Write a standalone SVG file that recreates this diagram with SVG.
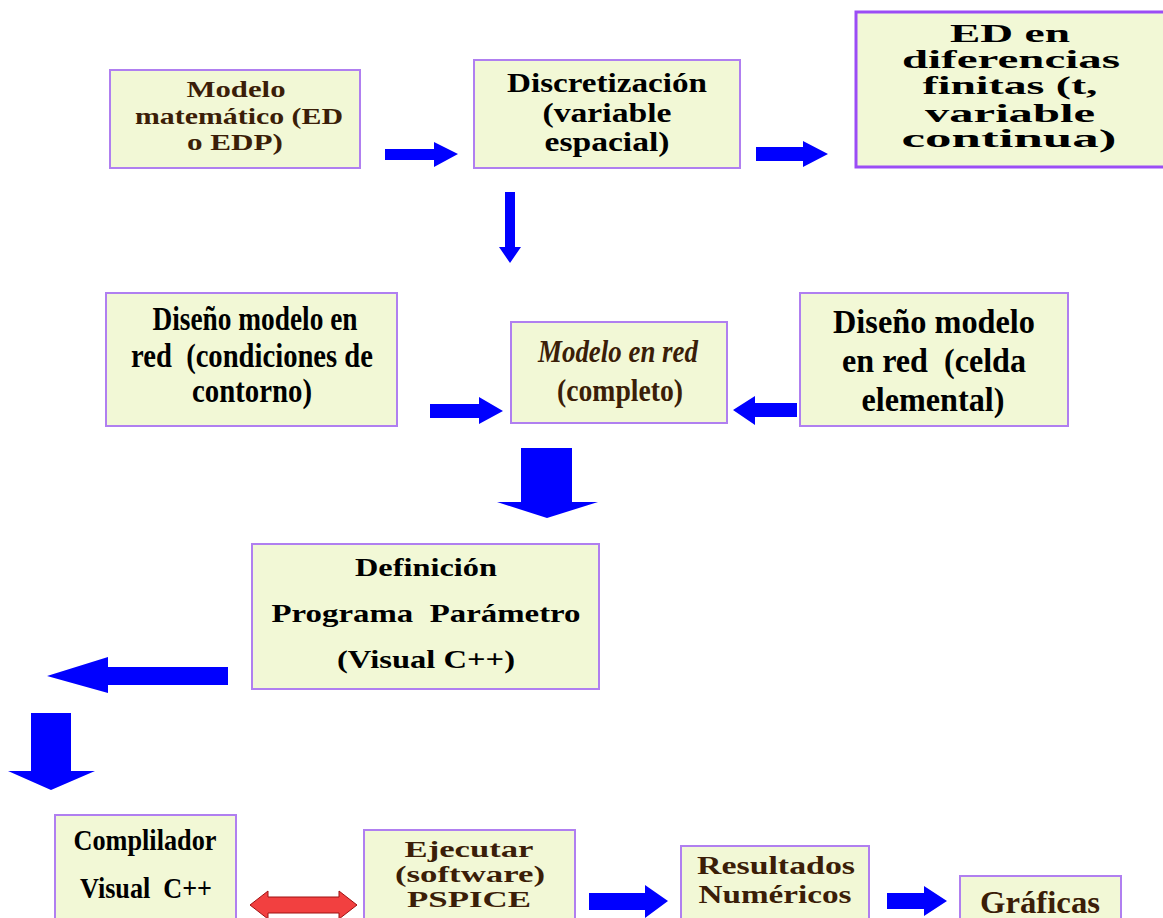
<svg xmlns="http://www.w3.org/2000/svg" width="1163" height="918" viewBox="0 0 1163 918">
<style>
.box{fill:#f2f8d6;stroke:#b07ff0;stroke-width:2}
.t{font-family:"Liberation Serif",serif;font-weight:bold;text-anchor:middle;fill:#000;white-space:pre}
.br{fill:#3b1e08}
.arr{fill:#0000ff}
.red{fill:#f24040;stroke:#a01010;stroke-width:1}
</style>
<rect width="1163" height="918" fill="#fff"/>
<g id="connectors">
<polygon class="arr" points="385,149 434,149 434,142 458,154 434,167 434,160 385,160"/>
<polygon class="arr" points="756,147 803,147 803,141 828,154 803,167 803,161 756,161"/>
<polygon class="arr" points="505,192 515,192 515,247 521,247 510,263 499,247 505,247"/>
<polygon class="arr" points="430,404 479,404 479,397 503,411 479,424 479,418 430,418"/>
<polygon class="arr" points="797,403 755,403 755,396 733,410 755,425 755,417 797,417"/>
<polygon class="arr" points="521,448 572,448 572,502 598,502 547,518 497,502 521,502"/>
<polygon class="arr" points="228,667 108,667 108,657 47,676 108,693 108,685 228,685"/>
<polygon class="arr" points="31,713 71,713 71,771 95,771 51,790 8,771 31,771"/>
<polygon class="red" points="250,905 268,891 268,897 339,897 339,891 357,905 339,919 339,913 268,913 268,919"/>
<polygon class="arr" points="589,893 645,893 645,885 668,901 645,918 645,910 589,910"/>
<polygon class="arr" points="887,893 924,893 924,886 947,901 924,916 924,909 887,909"/>
</g>
<g id="n-modelo">
<rect class="box" x="110" y="70" width="250" height="98"/>
<text class="t br" font-size="24"><tspan x="236" y="97" textLength="99" lengthAdjust="spacingAndGlyphs">Modelo</tspan><tspan x="239" y="124" textLength="208" lengthAdjust="spacingAndGlyphs">matemático (ED</tspan><tspan x="235" y="150" textLength="96" lengthAdjust="spacingAndGlyphs">o EDP)</tspan></text>
</g>
<g id="n-discretizacion">
<rect class="box" x="474" y="60" width="266" height="108"/>
<text class="t" font-size="27"><tspan x="607" y="92" textLength="200" lengthAdjust="spacingAndGlyphs">Discretización</tspan><tspan x="607" y="122" textLength="129" lengthAdjust="spacingAndGlyphs">(variable</tspan><tspan x="607" y="151" textLength="125" lengthAdjust="spacingAndGlyphs">espacial)</tspan></text>
</g>
<g id="n-ed-diferencias">
<rect x="856" y="12" width="312" height="155" fill="#f2f8d6" stroke="#9b4df5" stroke-width="3"/>
<text class="t" font-size="25"><tspan x="1010" y="42" textLength="120" lengthAdjust="spacingAndGlyphs">ED en</tspan><tspan x="1011" y="68" textLength="218" lengthAdjust="spacingAndGlyphs">diferencias</tspan><tspan x="1010" y="94" textLength="175" lengthAdjust="spacingAndGlyphs">finitas (t,</tspan><tspan x="1010" y="122" textLength="170" lengthAdjust="spacingAndGlyphs">variable</tspan><tspan x="1009" y="147" textLength="215" lengthAdjust="spacingAndGlyphs">continua)</tspan></text>
</g>
<g id="n-diseno-contorno">
<rect class="box" x="106" y="293" width="291" height="133"/>
<text class="t" font-size="33"><tspan x="255" y="330" textLength="205" lengthAdjust="spacingAndGlyphs">Diseño modelo en</tspan><tspan x="252" y="367" textLength="242" lengthAdjust="spacingAndGlyphs">red  (condiciones de</tspan><tspan x="252" y="402" textLength="120" lengthAdjust="spacingAndGlyphs">contorno)</tspan></text>
</g>
<g id="n-modelo-red">
<rect class="box" x="511" y="322" width="216" height="101"/>
<text class="t br" font-size="31"><tspan x="618" y="362" font-style="italic" textLength="160" lengthAdjust="spacingAndGlyphs">Modelo en red</tspan><tspan x="620" y="401" textLength="126" lengthAdjust="spacingAndGlyphs">(completo)</tspan></text>
</g>
<g id="n-diseno-celda">
<rect class="box" x="800" y="293" width="268" height="133"/>
<text class="t" font-size="34"><tspan x="934" y="333" textLength="202" lengthAdjust="spacingAndGlyphs">Diseño modelo</tspan><tspan x="934" y="372" textLength="184" lengthAdjust="spacingAndGlyphs">en red  (celda</tspan><tspan x="933" y="411" textLength="143" lengthAdjust="spacingAndGlyphs">elemental)</tspan></text>
</g>
<g id="n-definicion">
<rect class="box" x="252" y="544" width="347" height="145"/>
<text class="t" font-size="26"><tspan x="426" y="576" textLength="142" lengthAdjust="spacingAndGlyphs">Definición</tspan><tspan x="426" y="622" textLength="309" lengthAdjust="spacingAndGlyphs">Programa  Parámetro</tspan><tspan x="426" y="668" textLength="178" lengthAdjust="spacingAndGlyphs">(Visual C++)</tspan></text>
</g>
<g id="n-compilador">
<rect class="box" x="55" y="815" width="181" height="110"/>
<text class="t" font-size="30"><tspan x="145" y="850" textLength="143" lengthAdjust="spacingAndGlyphs">Complilador</tspan><tspan x="146" y="898" textLength="132" lengthAdjust="spacingAndGlyphs">Visual  C++</tspan></text>
</g>
<g id="n-ejecutar">
<rect class="box" x="364" y="830" width="211" height="95"/>
<text class="t br" font-size="24"><tspan x="469" y="857" textLength="129" lengthAdjust="spacingAndGlyphs">Ejecutar</tspan><tspan x="470" y="882" textLength="150" lengthAdjust="spacingAndGlyphs">(software)</tspan><tspan x="469" y="907" textLength="124" lengthAdjust="spacingAndGlyphs">PSPICE</tspan></text>
</g>
<g id="n-resultados">
<rect class="box" x="681" y="846" width="188" height="80"/>
<text class="t br" font-size="26"><tspan x="776" y="874" textLength="158" lengthAdjust="spacingAndGlyphs">Resultados</tspan><tspan x="775" y="903" textLength="153" lengthAdjust="spacingAndGlyphs">Numéricos</tspan></text>
</g>
<g id="n-graficas">
<rect class="box" x="960" y="876" width="161" height="50"/>
<text class="t br" font-size="32"><tspan x="1040" y="913" textLength="120" lengthAdjust="spacingAndGlyphs">Gráficas</tspan></text>
</g>
</svg>
